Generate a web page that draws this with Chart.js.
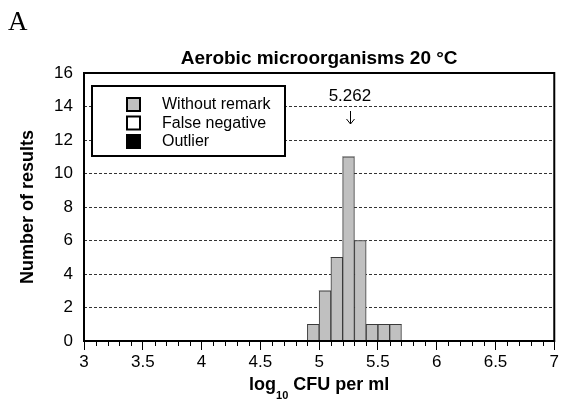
<!DOCTYPE html>
<html>
<head>
<meta charset="utf-8">
<script src="https://cdn.jsdelivr.net/npm/chart.js@4.4.1/dist/chart.umd.min.js"></script>
<style>
  html, body { margin: 0; padding: 0; background: #fff; }
  #wrap { width: 561px; height: 401px; }
</style>
</head>
<body>
<div id="wrap"><canvas id="histo"></canvas></div>
<script>
// bins are 0.1 log units wide, given by their centres
const binCentres = [4.95, 5.05, 5.15, 5.25, 5.35, 5.45, 5.55, 5.65];
const withoutRemark = [1, 3, 5, 11, 6, 1, 1, 1];
const falseNegative = [0, 0, 0, 0, 0, 0, 0, 0];
const outlier = [0, 0, 0, 0, 0, 0, 0, 0];
const xTicks = [3, 3.5, 4, 4.5, 5, 5.5, 6, 6.5, 7];
const yTicks = [0, 2, 4, 6, 8, 10, 12, 14, 16];
const assignedValue = 5.262;
const chartTitle = 'Aerobic microorganisms 20 °C';

Chart.defaults.font.family = '"Liberation Sans", Arial, sans-serif';
Chart.defaults.color = '#000';

function points(vals) {
  return binCentres.map((x, i) => ({ x: x, y: vals[i] }));
}

const decorations = {
  id: 'decorations',
  afterDraw(chart) {
    const { ctx, chartArea: a, scales: { x, y } } = chart;
    const cx = (a.left + a.right) / 2;
    ctx.save();

    // title, centred over the plot area
    ctx.fillStyle = '#000';
    ctx.font = 'bold 19px "Liberation Sans", Arial, sans-serif';
    ctx.textAlign = 'center';
    ctx.textBaseline = 'alphabetic';
    ctx.fillText(chartTitle, cx, a.top - 9);

    // minor ticks every 0.1
    ctx.strokeStyle = '#000';
    ctx.lineWidth = 1;
    for (let k = 30; k <= 70; k++) {
      if (k % 5 === 0) continue;
      const px = Math.round(x.getPixelForValue(k / 10)) + 0.5;
      ctx.beginPath();
      ctx.moveTo(px, a.bottom);
      ctx.lineTo(px, a.bottom + 5);
      ctx.stroke();
    }

    // frame round the plot
    ctx.lineWidth = 2;
    ctx.strokeRect(a.left, a.top, a.right - a.left, a.bottom - a.top);

    // legend box (opaque)
    const lx = a.left + 8, ly = a.top + 13;
    ctx.fillStyle = '#fff';
    ctx.fillRect(lx, ly, 193, 70);
    ctx.strokeRect(lx, ly, 193, 70);
    ctx.font = '16px "Liberation Sans", Arial, sans-serif';
    ctx.textBaseline = 'middle';
    ctx.textAlign = 'left';
    chart.data.datasets.forEach((ds, i) => {
      const sy = a.top + 25 + i * 18.5;
      ctx.fillStyle = ds.backgroundColor;
      ctx.fillRect(a.left + 43, sy, 13, 13);
      ctx.strokeStyle = '#000';
      ctx.strokeRect(a.left + 43, sy, 13, 13);
      ctx.fillStyle = '#000';
      ctx.fillText(ds.label, a.left + 78, sy + 7);
    });

    // assigned value marker
    const vx = x.getPixelForValue(assignedValue);
    const y14 = y.getPixelForValue(14);
    ctx.font = '17px "Liberation Sans", Arial, sans-serif';
    ctx.textAlign = 'center';
    ctx.textBaseline = 'alphabetic';
    ctx.fillText(assignedValue.toFixed(3), vx, y14 - 5.5);
    ctx.lineWidth = 1;
    const ax = Math.round(vx) + 0.5;
    ctx.beginPath();
    ctx.moveTo(ax, y14 + 4.5);
    ctx.lineTo(ax, y14 + 17.5);
    ctx.moveTo(ax - 4, y14 + 12.5);
    ctx.lineTo(ax, y14 + 17.5);
    ctx.lineTo(ax + 4, y14 + 12.5);
    ctx.stroke();

    // x axis title with subscript
    const by = a.bottom + 49;
    const big = 'bold 18px "Liberation Sans", Arial, sans-serif';
    const small = 'bold 11px "Liberation Sans", Arial, sans-serif';
    ctx.font = big;
    const w1 = ctx.measureText('log').width;
    const w3 = ctx.measureText(' CFU per ml').width;
    ctx.font = small;
    const w2 = ctx.measureText('10').width;
    const sx = cx - (w1 + w2 + w3) / 2;
    ctx.textAlign = 'left';
    ctx.font = big;
    ctx.fillText('log', sx, by);
    ctx.font = small;
    ctx.fillText('10', sx + w1, by + 9);
    ctx.font = big;
    ctx.fillText(' CFU per ml', sx + w1 + w2, by);

    // panel letter
    ctx.font = '27px "Liberation Serif", "Times New Roman", serif';
    ctx.fillText('A', 8, 30);

    ctx.restore();
  }
};

new Chart(document.getElementById('histo'), {
  type: 'bar',
  data: {
    datasets: [{
      label: 'Without remark',
      data: points(withoutRemark),
      backgroundColor: '#c0c0c0',
      borderColor: '#3a3a3a',
      borderWidth: 1,
      stack: 'all'
    }, {
      label: 'False negative',
      data: points(falseNegative),
      backgroundColor: '#ffffff',
      borderWidth: 0,
      stack: 'all'
    }, {
      label: 'Outlier',
      data: points(outlier),
      backgroundColor: '#000000',
      borderWidth: 0,
      stack: 'all'
    }]
  },
  options: {
    responsive: true,
    maintainAspectRatio: false,
    animation: false,
    layout: { padding: { top: 73, right: 5, bottom: 0, left: 0 } },
    datasets: { bar: { barPercentage: 1, categoryPercentage: 1 } },
    plugins: {
      legend: { display: false },
      tooltip: { enabled: false },
      title: { display: false }
    },
    scales: {
      x: {
        type: 'linear',
        min: 3,
        max: 7,
        stacked: true,
        offset: false,
        afterBuildTicks: s => { s.ticks = xTicks.map(v => ({ value: v })); },
        afterFit: s => { s.height = 60; },
        grid: { offset: false, drawOnChartArea: false, tickLength: 9, tickColor: '#000', tickWidth: 1 },
        border: { display: false },
        ticks: { font: { size: 17 }, padding: 2, maxRotation: 0, autoSkip: false, callback: v => String(v) }
      },
      y: {
        min: 0,
        max: 16,
        stacked: true,
        afterBuildTicks: s => { s.ticks = yTicks.map(v => ({ value: v })); },
        afterFit: s => { s.width = 84; },
        grid: { color: '#333', lineWidth: 1, drawTicks: false },
        border: { display: false, dash: [3, 2] },
        ticks: { font: { size: 17 }, padding: 11, callback: v => String(v) },
        title: {
          display: true,
          text: 'Number of results',
          color: '#000',
          font: { size: 18, weight: 'bold', lineHeight: 1.2 },
          padding: { top: 17, bottom: 0 }
        }
      }
    }
  },
  plugins: [decorations]
});
</script>
</body>
</html>
